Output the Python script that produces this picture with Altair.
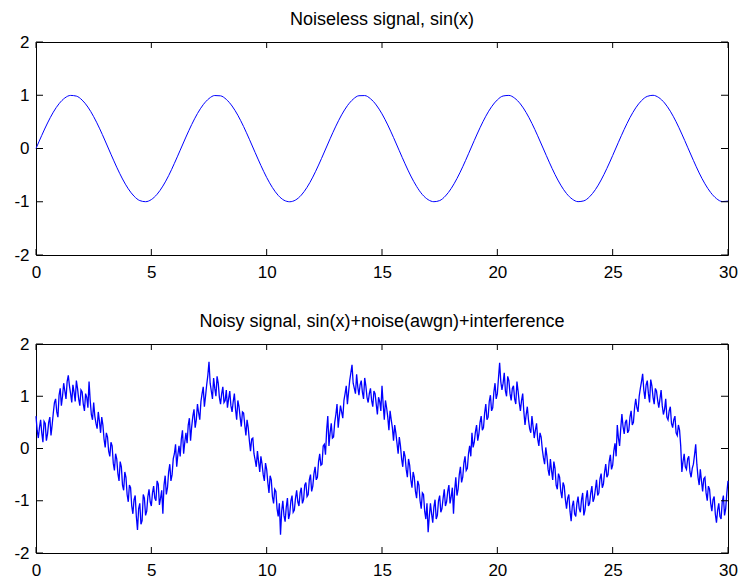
import altair as alt
import pandas as pd

FONT = "Liberation Sans"
X_TICKS = [0, 5, 10, 15, 20, 25, 30]
Y_TICKS = [-2, -1, 0, 1, 2]
TOP_TITLE = "Noiseless signal, sin(x)"
BOTTOM_TITLE = "Noisy signal, sin(x)+noise(awgn)+interference"

# Noiseless signal, sampled every 0.25 (one row per unit of x)
CLEAN_STEP = 0.25
clean_y = [
    0.000, 0.247, 0.479, 0.682,
    0.841, 0.949, 0.997, 0.984,
    0.909, 0.778, 0.598, 0.382,
    0.141, -0.108, -0.351, -0.572,
    -0.757, -0.895, -0.978, -0.999,
    -0.959, -0.859, -0.706, -0.510,
    -0.279, -0.033, 0.215, 0.450,
    0.657, 0.823, 0.938, 0.995,
    0.989, 0.922, 0.798, 0.625,
    0.412, 0.174, -0.075, -0.319,
    -0.544, -0.734, -0.880, -0.971,
    -1.000, -0.968, -0.876, -0.729,
    -0.537, -0.311, -0.066, 0.183,
    0.420, 0.632, 0.804, 0.926,
    0.991, 0.994, 0.935, 0.818,
    0.650, 0.442, 0.206, -0.042,
    -0.288, -0.517, -0.712, -0.865,
    -0.961, -0.999, -0.978, -0.892,
    -0.751, -0.564, -0.343, -0.099,
    0.150, 0.390, 0.606, 0.784,
    0.913, 0.986, 0.997, 0.946,
    0.837, 0.675, 0.471, 0.238,
    -0.009, -0.256, -0.488, -0.688,
    -0.846, -0.951, -0.998, -0.983,
    -0.906, -0.773, -0.591, -0.373,
    -0.132, 0.117, 0.359, 0.579,
    0.763, 0.899, 0.979, 0.999,
    0.956, 0.855, 0.700, 0.502,
    0.271, 0.024, -0.223, -0.459,
    -0.663, -0.827, -0.941, -0.996,
    -0.988,
]

# Noisy signal, sampled every 0.05 (one row per unit of x)
NOISY_STEP = 0.05
noisy_y = [
    0.62, 0.35, 0.20, 0.40, 0.55, 0.30, 0.12, 0.52, 0.48, 0.15, 0.28, 0.50, 0.60, 0.25, 0.45, 0.68, 0.88, 0.95, 0.70, 0.60,
    1.02, 1.15, 0.82, 1.00, 1.25, 1.10, 0.95, 1.28, 1.40, 1.20, 1.05, 0.88, 1.22, 1.08, 0.90, 1.30, 1.15, 0.95, 0.82, 1.12,
    1.08, 0.85, 0.72, 1.05, 0.98, 0.78, 1.28, 0.92, 0.65, 0.55, 0.88, 0.62, 0.48, 0.38, 0.70, 0.52, 0.30, 0.60, 0.45, 0.18,
    0.02, 0.30, 0.22, -0.05, -0.15, 0.12, 0.05, -0.28, -0.42, -0.10, -0.20, -0.48, -0.62, -0.25, -0.35, -0.70, -0.80, -0.45, -0.55, -0.88,
    -1.02, -0.70, -0.75, -1.10, -1.25, -0.98, -0.90, -1.30, -1.56, -1.15, -1.05, -1.45, -1.38, -0.88, -0.95, -1.28, -1.20, -0.92, -0.78, -1.02,
    -1.10, -0.85, -0.72, -0.95, -1.00, -0.62, -0.68, -1.08, -0.95, -0.80, -1.25, -0.70, -0.52, -0.88, -0.75, -0.45, -0.30, -0.62, -0.50, -0.20,
    -0.10, 0.08, -0.35, -0.12, 0.05, -0.15, 0.18, 0.35, -0.10, 0.12, 0.30, 0.10, 0.45, 0.58, 0.15, 0.42, 0.62, 0.75, 0.40, 0.55,
    0.85, 0.68, 0.55, 0.90, 1.05, 1.18, 0.80, 1.00, 1.22, 1.40, 1.66, 1.25, 1.10, 0.95, 1.35, 1.15, 1.00, 1.38, 1.25, 0.98,
    0.85, 1.05, 1.18, 0.88, 0.92, 1.12, 0.78, 0.95, 1.10, 0.82, 0.70, 0.90, 1.05, 0.75, 0.55, 0.92, 0.80, 0.60, 0.42, 0.70,
    0.68, 0.45, 0.25, 0.55, 0.40, 0.15, -0.05, 0.18, 0.20, -0.10, -0.22, -0.35, -0.05, -0.25, -0.45, -0.15, -0.30, -0.50, -0.62, -0.28,
    -0.40, -0.65, -0.85, -0.52, -0.60, -0.92, -1.05, -0.78, -0.82, -1.15, -1.30, -1.05, -1.65, -1.20, -1.00, -1.28, -1.40, -1.12, -0.95, -1.35,
    -1.25, -1.00, -0.90, -1.22, -1.18, -0.95, -0.80, -1.02, -1.10, -0.85, -0.75, -1.05, -0.98, -0.70, -0.65, -0.92, -0.88, -0.60, -0.50, -0.82,
    -0.72, -0.48, -0.35, -0.60, -0.55, -0.25, -0.10, -0.32, -0.30, 0.05, 0.08, -0.12, 0.35, 0.62, 0.05, 0.30, 0.48, 0.20, 0.22, 0.50,
    0.65, 0.85, 0.40, 0.62, 0.82, 0.70, 0.58, 0.92, 1.05, 1.20, 0.85, 1.08, 1.30, 1.45, 1.60, 1.25, 1.15, 1.05, 1.42, 1.18,
    1.02, 1.22, 1.30, 1.08, 0.95, 1.35, 1.20, 0.98, 0.88, 1.05, 1.15, 0.92, 0.80, 1.10, 1.05, 0.85, 0.65, 0.98, 0.90, 0.72,
    1.20, 0.85, 0.55, 0.92, 0.78, 0.60, 0.35, 0.72, 0.55, 0.40, 0.15, 0.45, 0.30, 0.10, -0.10, 0.22, 0.05, -0.20, -0.35, -0.05,
    -0.15, -0.40, -0.55, -0.20, -0.32, -0.60, -0.75, -0.45, -0.55, -0.82, -0.95, -0.62, -0.70, -1.00, -1.15, -0.85, -0.88, -1.20, -1.35, -1.05,
    -1.60, -1.30, -1.05, -1.25, -1.42, -1.12, -0.98, -1.35, -1.28, -1.00, -0.90, -1.22, -1.15, -0.95, -0.78, -1.10, -1.02, -0.82, -0.70, -1.05,
    -0.92, -0.75, -1.25, -0.80, -0.55, -0.90, -0.78, -0.50, -0.35, -0.65, -0.55, -0.28, -0.15, -0.42, -0.38, -0.10, 0.05, -0.15, 0.30, 0.02,
    0.12, 0.32, 0.45, 0.15, 0.28, 0.50, 0.62, 0.35, 0.40, 0.68, 0.85, 0.55, 0.60, 0.90, 1.02, 0.72, 0.78, 1.08, 1.25, 0.95,
    1.05, 1.35, 1.64, 1.28, 1.12, 1.25, 1.45, 1.10, 1.00, 1.38, 1.30, 1.05, 0.92, 1.15, 1.20, 0.95, 0.85, 1.28, 1.10, 0.88,
    0.72, 0.92, 1.05, 0.70, 0.45, 0.65, 0.80, 0.55, 0.38, 0.30, 0.62, 0.42, 0.20, 0.35, 0.48, 0.18, 0.05, 0.30, 0.22, -0.02,
    -0.18, -0.30, 0.02, -0.15, -0.40, -0.52, -0.20, -0.42, -0.60, -0.25, -0.38, -0.70, -0.78, -0.48, -0.55, -0.82, -0.95, -0.65, -0.72, -0.98,
    -1.15, -0.95, -0.88, -1.20, -1.39, -1.10, -1.00, -1.25, -1.30, -1.05, -0.92, -1.15, -1.22, -0.98, -0.85, -1.28, -1.18, -0.95, -0.80, -1.10,
    -1.05, -0.85, -0.72, -1.02, -0.95, -0.78, -0.60, -0.90, -0.85, -0.58, -0.48, -0.75, -0.68, -0.45, -0.30, -0.55, -0.50, -0.25, -0.12, -0.40,
    -0.32, -0.05, 0.10, -0.15, 0.45, 0.20, 0.05, 0.38, 0.66, 0.42, 0.28, 0.50, 0.55, 0.30, 0.35, 0.60, 0.72, 0.45, 0.50, 0.78,
    0.95, 0.78, 0.70, 1.00, 1.15, 1.28, 1.43, 1.12, 0.95, 1.22, 1.30, 1.05, 0.88, 1.32, 1.20, 0.98, 0.85, 1.15, 1.10, 0.92,
    0.78, 0.95, 1.12, 0.82, 0.65, 0.75, 0.95, 0.60, 0.55, 0.72, 0.80, 0.48, 0.40, 0.55, 0.62, 0.30, 0.25, 0.45, 0.35, 0.05,
    -0.45, -0.25, -0.10, -0.35, -0.40, -0.20, -0.15, -0.45, -0.55, -0.38, -0.30, -0.12, 0.08, -0.30, -0.55, -0.70, -0.40, -0.62, -0.82, -0.58,
    -0.55, -0.85, -1.00, -0.72, -0.78, -1.05, -1.20, -0.98, -0.92, -1.25, -1.42, -1.18, -1.05, -1.30, -1.35, -1.02, -0.90, -1.28, -1.15, -0.85,
    -0.62,
]

clean = pd.DataFrame({"x": [round(i * CLEAN_STEP, 3) for i in range(len(clean_y))], "y": clean_y})
noisy = pd.DataFrame({"x": [round(i * NOISY_STEP, 3) for i in range(len(noisy_y))], "y": noisy_y})
xt = pd.DataFrame({"x": X_TICKS})
yt = pd.DataFrame({"y": Y_TICKS})

W = 692
TICK_X = 6
TICK_Y = 7
TITLE_GAP = 17


def panel(df, title, h, interp, lw):
    xs = alt.Scale(domain=[0, 30], nice=False, zero=False)
    ys = alt.Scale(domain=[-2, 2], nice=False, zero=False)
    ax_common = dict(
        title=None, grid=False, domain=False, ticks=False, tickSize=0,
        labelFont=FONT, labelFontSize=17, labelColor="black",
        labelExpr="'' + datum.value", labelFlush=False,
    )
    line = alt.Chart(df).mark_line(color="#0000ff", strokeWidth=lw, interpolate=interp).encode(
        x=alt.X("x:Q", scale=xs, axis=alt.Axis(values=X_TICKS, labelPadding=9, **ax_common)),
        y=alt.Y("y:Q", scale=ys, axis=alt.Axis(values=Y_TICKS, labelPadding=7, **ax_common)),
    )
    rule = dict(color="black", strokeWidth=1)
    tick_x_top = alt.Chart(xt).mark_rule(**rule).encode(
        x=alt.X("x:Q", scale=xs, title=None), y=alt.value(0), y2=alt.value(TICK_X)
    )
    tick_x_bot = alt.Chart(xt).mark_rule(**rule).encode(
        x=alt.X("x:Q", scale=xs, title=None), y=alt.value(h - TICK_X), y2=alt.value(h)
    )
    tick_y_left = alt.Chart(yt).mark_rule(**rule).encode(
        y=alt.Y("y:Q", scale=ys, title=None), x=alt.value(0), x2=alt.value(TICK_Y)
    )
    tick_y_right = alt.Chart(yt).mark_rule(**rule).encode(
        y=alt.Y("y:Q", scale=ys, title=None), x=alt.value(W - TICK_Y), x2=alt.value(W)
    )
    head = alt.Chart(pd.DataFrame({"t": [title]})).mark_text(
        font=FONT, fontSize=18, color="black", align="center", baseline="alphabetic"
    ).encode(text="t:N", x=alt.value(W / 2), y=alt.value(-TITLE_GAP))
    return alt.layer(line, tick_x_top, tick_x_bot, tick_y_left, tick_y_right, head).properties(
        width=W, height=h
    )


top = panel(clean, TOP_TITLE, 213, "monotone", 1)
bottom = panel(noisy, BOTTOM_TITLE, 209, "linear", 1.3)

chart = alt.vconcat(top, bottom, spacing=89, bounds="flush").properties(
    padding={"left": 13, "top": 10, "right": 3, "bottom": 1},
    background="white",
).configure_view(stroke="black", strokeWidth=1)

chart.save("out.html", embed_options={"renderer": "svg", "actions": False})
